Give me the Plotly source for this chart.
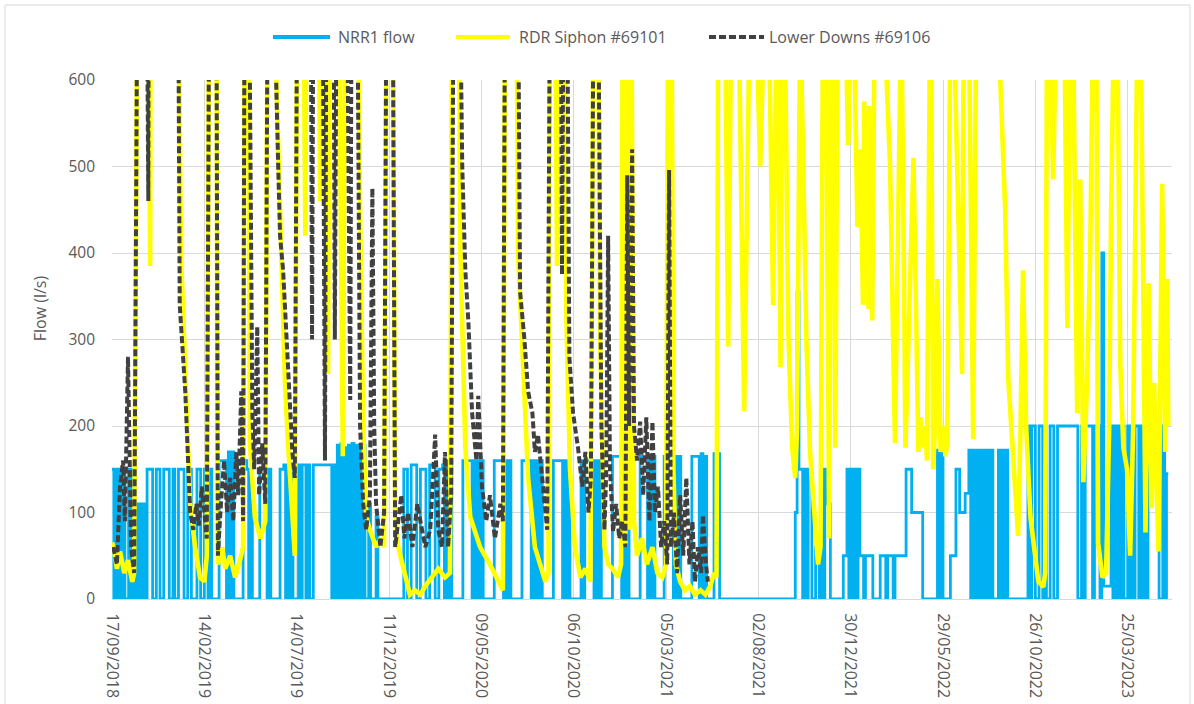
import pandas as pd
import plotly.graph_objects as go

RECORD_START = pd.Timestamp("2018-09-17")

# NRR1 flow (l/s), one reading every 3 days from the start of the record
NRR1_STEP_DAYS = 3
nrr1_flow = [
    150, 0, 150, 0, 150, 0, 150, 0, 0, 150, 0, 150, 0,
    110, 0, 110, 0, 110, 0,
    150, 150, 150, 0, 0, 150, 150, 0, 0, 150,
    150, 150, 0, 0, 150, 0, 0, 150, 150, 150,
    0, 0, 150, 150, 0, 0, 0, 150, 150, 0,
    0, 150,
    150, 0, 150, 0, 0, 0, 0, 160, 160, 160,
    160, 0, 170, 0, 170, 0, 0, 0, 0, 0,
    160, 160,
    150, 0, 150, 0, 0, 0, 0, 150, 150, 150,
    150, 0, 150, 0, 0, 0, 0, 0, 150, 150,
    155, 0,
    155, 0, 155, 0, 0, 0, 155, 0, 155, 155,
    0, 155, 0, 0, 155, 155, 155, 155, 155, 155,
    155, 155, 155, 155, 0, 155, 0,
    178, 0, 180, 0, 175, 0, 178, 0, 180, 0,
    178, 0, 175, 0, 178,
    0, 0, 110, 0, 0, 0, 95, 0, 0,
    0, 0, 0, 0, 0, 0, 0, 0, 0, 0, 0, 0,
    150, 150, 0, 0, 155, 155, 155, 0, 0, 150,
    150, 150, 0, 0, 155, 155, 155, 0, 0, 150,
    150,
    155, 0, 160, 0, 160, 0, 0, 0, 0, 0,
    0, 160, 160, 160, 160, 160, 0, 160, 0, 160,
    0, 160, 0, 0, 0, 0, 0, 0, 160, 160,
    160, 160, 160, 0, 160, 0, 160, 0, 0, 0,
    0, 0, 0, 160, 160, 160, 160, 160, 0, 160,
    0, 160, 0, 160, 0, 0, 0, 0, 0, 0,
    160, 160, 160, 160, 160, 0, 160, 0, 160, 0,
    0, 0, 0, 0, 0, 160, 0, 160, 160, 160,
    160, 160, 0, 160, 0, 160, 0, 0, 0, 0,
    0, 0, 165, 165, 165, 165, 165, 0, 160, 0,
    160, 0, 0, 0, 0, 0, 0, 165, 165, 165,
    165, 0, 165, 0, 165, 0, 0, 0, 0, 0,
    165, 165, 165, 165, 165, 0, 165, 0, 165, 0,
    0, 0, 0, 0, 0, 165, 165, 165, 165, 0,
    168, 0, 165, 0, 0, 0, 0, 168, 168, 168,
    0, 0, 0, 0, 0, 0, 0, 0, 0, 0,
    0, 0, 0, 0, 0, 0, 0, 0, 0, 0,
    0, 0, 0, 0, 0, 0, 0, 0, 0, 0,
    0, 0, 0, 0, 0, 0, 0, 0, 0, 0,
    0,
    100, 355, 150, 150, 0, 150, 0, 150, 150, 0,
    0, 60, 60, 0, 150, 0, 150, 110, 110, 0,
    0, 0, 0, 0, 0, 0, 50, 50, 150, 0,
    150, 0, 150, 0, 150, 50, 50, 0, 50, 50,
    50, 50, 0, 0, 0, 0, 50, 50, 50, 0,
    50, 50, 50, 0, 50, 50, 50, 50, 50, 50,
    150, 150, 150, 100, 100, 100, 100, 100, 100, 0,
    0, 0, 0, 0, 0, 0, 0, 172, 0, 172,
    0, 0, 0, 0, 50, 50, 50, 150, 150, 100,
    100, 100, 122, 122, 172, 0, 172, 0, 172, 0,
    172, 0, 172, 0, 172, 0, 172, 0, 0, 0,
    172, 0, 172, 0, 172, 0, 0, 0, 0, 0,
    0, 0, 0, 0, 0, 0,
    200, 0, 200, 200, 0, 0, 200, 200, 0, 200,
    0, 0, 200, 200, 0, 0, 200, 200, 200, 200,
    200, 200, 200, 200, 200, 200, 200, 0, 0, 200,
    0, 200, 200, 200, 200, 0, 200, 200, 200, 0,
    400, 15, 15, 15, 15, 200, 0, 200, 0, 200,
    0, 200, 0, 0, 200, 0, 200, 0, 200, 200,
    0, 200, 0, 200, 0, 200, 200, 200, 200, 200,
    200, 0, 0, 200, 0, 145, 145,
]

# RDR Siphon #69101 flow: (day from start of record, l/s)
rdr_points = [
    (0, 65), (3, 60), (8, 35), (13, 55), (20, 30), (26, 45), (33, 20), (36, 30),
    (41, 700), (46, 900), (52, 700), (57, 900), (62, 385), (63, 900), (104, 900),
    (107, 800), (112, 400), (119, 250), (127, 110), (135, 60), (143, 25), (150, 20),
    (154, 50), (159, 900), (164, 700), (169, 900), (172, 40), (179, 60), (184, 35),
    (192, 50), (200, 25), (208, 45), (213, 60), (216, 900), (221, 800), (224, 180),
    (232, 95), (241, 70), (249, 90), (254, 900), (260, 900), (267, 600), (273, 450),
    (281, 250), (286, 180), (293, 100), (297, 50), (302, 900), (309, 900), (314, 420),
    (317, 900), (335, 900), (338, 460), (341, 900), (346, 800), (351, 260), (354, 900),
    (366, 900), (375, 165), (380, 900), (397, 900), (403, 450), (408, 200), (413, 95),
    (419, 80), (429, 60), (436, 70), (442, 60), (447, 900), (455, 900), (460, 100),
    (465, 60), (475, 30), (484, 5), (492, 10), (501, 5), (509, 15), (520, 25),
    (530, 35), (541, 25), (549, 30), (553, 800), (562, 900), (566, 400), (574, 175),
    (582, 95), (592, 75), (598, 60), (614, 40), (631, 15), (635, 10), (639, 800),
    (645, 900), (650, 700), (655, 900), (660, 395), (668, 255), (676, 140), (687, 60),
    (696, 40), (704, 20), (709, 30), (712, 800), (718, 900), (723, 385), (728, 900),
    (735, 700), (738, 330), (744, 150), (752, 60), (761, 25), (769, 35), (777, 20),
    (783, 800), (788, 900), (793, 300), (800, 60), (806, 40), (813, 35), (822, 25),
    (827, 40), (830, 800), (834, 60), (837, 800), (840, 80), (843, 800), (848, 90),
    (853, 50), (861, 70), (869, 40), (878, 60), (886, 30), (894, 25), (900, 40),
    (904, 800), (908, 900), (912, 150), (916, 40), (923, 20), (931, 10), (939, 15),
    (947, 5), (956, 10), (964, 5), (972, 15), (978, 30), (982, 25), (985, 700),
    (988, 700), (996, 680), (1001, 292), (1006, 680), (1018, 680), (1027, 217),
    (1036, 680), (1046, 680), (1053, 500), (1060, 680), (1067, 680), (1074, 340),
    (1080, 680), (1082, 650), (1086, 268), (1089, 680), (1094, 600), (1099, 300),
    (1105, 175), (1110, 140), (1113, 200), (1118, 680), (1123, 500), (1128, 300),
    (1134, 170), (1141, 90), (1147, 40), (1151, 60), (1155, 680), (1160, 680),
    (1165, 70), (1168, 680), (1172, 680), (1175, 175), (1179, 680), (1191, 680),
    (1196, 525), (1201, 680), (1205, 680), (1211, 430), (1216, 520), (1220, 340),
    (1222, 575), (1229, 335), (1230, 570), (1235, 322), (1239, 680), (1254, 680),
    (1264, 500), (1272, 180), (1276, 400), (1282, 680), (1285, 500), (1289, 175),
    (1294, 300), (1302, 510), (1310, 170), (1313, 210), (1318, 175), (1321, 200),
    (1324, 160), (1329, 680), (1331, 600), (1334, 150), (1337, 200), (1341, 370),
    (1346, 170), (1350, 200), (1354, 165), (1357, 180), (1362, 680), (1367, 680),
    (1373, 500), (1381, 260), (1383, 580), (1386, 680), (1392, 680), (1399, 185),
    (1404, 680), (1438, 680), (1443, 600), (1451, 450), (1456, 255), (1463, 175),
    (1472, 73), (1476, 200), (1480, 380), (1485, 200), (1492, 95), (1498, 60),
    (1505, 20), (1513, 14), (1516, 30), (1519, 680), (1524, 650), (1529, 485),
    (1534, 680), (1547, 680), (1552, 313), (1557, 680), (1561, 680), (1568, 215),
    (1573, 485), (1578, 135), (1584, 250), (1589, 395), (1594, 680), (1599, 680),
    (1602, 65), (1609, 25), (1615, 30), (1620, 200), (1623, 440), (1628, 680),
    (1633, 680), (1638, 270), (1643, 175), (1649, 150), (1654, 50), (1659, 200),
    (1666, 680), (1671, 680), (1679, 77), (1684, 365), (1689, 105), (1693, 250),
    (1700, 55), (1706, 480), (1711, 170), (1714, 370), (1716, 200),
]

# Lower Downs #69106 flow: (day from start of record, l/s)
lower_points = [
    (2, 60), (8, 40), (13, 130), (18, 160), (21, 90), (26, 280), (31, 60), (36, 30),
    (41, 700), (46, 900), (55, 900), (59, 460), (60, 900), (104, 900), (107, 800),
    (110, 340), (115, 280), (119, 240), (127, 100), (132, 80), (137, 110), (141, 85),
    (146, 130), (151, 95), (154, 70), (159, 900), (164, 700), (169, 900), (172, 50),
    (177, 110), (182, 160), (187, 100), (192, 140), (197, 90), (202, 170), (205, 120),
    (210, 240), (213, 90), (216, 900), (221, 900), (224, 565), (228, 215), (231, 150),
    (236, 315), (239, 120), (244, 180), (249, 110), (254, 900), (260, 900), (265, 650),
    (270, 500), (273, 420), (278, 380), (284, 290), (293, 170), (297, 140), (302, 900),
    (322, 900), (325, 300), (328, 900), (341, 900), (346, 160), (349, 900), (359, 900),
    (362, 300), (366, 900), (380, 900), (387, 230), (390, 900), (397, 900), (403, 200),
    (408, 110), (413, 80), (419, 120), (423, 475), (426, 200), (429, 110), (436, 60),
    (442, 100), (447, 900), (455, 900), (460, 60), (465, 90), (470, 120), (475, 70),
    (481, 100), (488, 60), (496, 110), (501, 90), (509, 60), (517, 80), (525, 190),
    (530, 80), (536, 60), (541, 170), (546, 60), (551, 120), (556, 900), (562, 900),
    (569, 500), (574, 380), (579, 320), (585, 215), (592, 160), (595, 235), (601, 130),
    (608, 90), (614, 120), (622, 70), (631, 110), (635, 90), (639, 800), (645, 900),
    (650, 700), (658, 900), (663, 355), (670, 300), (676, 240), (683, 215), (687, 170),
    (692, 190), (697, 150), (702, 120), (707, 80), (712, 800), (728, 900), (731, 375),
    (735, 900), (738, 900), (743, 280), (749, 215), (757, 175), (764, 130), (769, 170),
    (774, 100), (778, 140), (783, 800), (788, 900), (795, 200), (800, 80), (803, 150),
    (806, 420), (809, 150), (814, 78), (819, 110), (824, 70), (829, 90), (834, 60),
    (837, 490), (840, 200), (845, 520), (848, 200), (853, 160), (858, 205), (863, 120),
    (868, 210), (873, 90), (878, 205), (882, 100), (887, 130), (892, 60), (897, 90),
    (902, 40), (905, 496), (908, 60), (913, 100), (918, 30), (923, 120), (928, 50),
    (933, 140), (938, 40), (943, 90), (947, 20), (952, 60), (957, 30), (960, 97),
    (965, 40), (968, 20),
]

tick_dates = [
    "2018-09-17", "2019-02-14", "2019-07-14", "2019-12-11", "2020-05-09", "2020-10-06",
    "2021-03-05", "2021-08-02", "2021-12-30", "2022-05-29", "2022-10-26", "2023-03-25",
]
x_range = ["2018-09-17", "2023-06-05"]

series_names = ["NRR1 flow", "RDR Siphon #69101", "Lower Downs #69106"]
series_colors = ["#00B0F0", "#FFFF00", "#404040"]

TEXT = "#595959"
GRID = "#D9D9D9"
FONT = "Open Sans"
DASH = "7px,3px"


def to_dates(days):
    return RECORD_START + pd.to_timedelta(list(days), unit="D")


nrr1_day = [NRR1_STEP_DAYS * i for i in range(len(nrr1_flow))]
rdr_day, rdr_flow = zip(*rdr_points)
lower_day, lower_flow = zip(*lower_points)

fig = go.Figure()
fig.add_trace(go.Scatter(
    x=to_dates(nrr1_day), y=nrr1_flow, mode="lines", name=series_names[0],
    line=dict(color=series_colors[0], width=2.8, shape="hv", simplify=False),
    showlegend=False,
))
fig.add_trace(go.Scatter(
    x=to_dates(rdr_day), y=list(rdr_flow), mode="lines", name=series_names[1],
    line=dict(color=series_colors[1], width=4.6), showlegend=False,
))
fig.add_trace(go.Scatter(
    x=to_dates(lower_day), y=list(lower_flow), mode="lines", name=series_names[2],
    line=dict(color=series_colors[2], width=4, dash=DASH), showlegend=False,
))

# Legend drawn as line samples with labels above the plot
legend_layout = [
    (0.1519, 0.2057, 0.2113, "solid"),
    (0.3245, 0.3755, 0.3821, "solid"),
    (0.5632, 0.6151, 0.6179, DASH),
]
shapes = []
annotations = []
LEG_Y = 1.083
for name, color, (x0, x1, xt, dash) in zip(series_names, series_colors, legend_layout):
    shapes.append(dict(type="line", xref="paper", yref="paper", x0=x0, x1=x1,
                       y0=LEG_Y, y1=LEG_Y, line=dict(color=color, width=4, dash=dash)))
    annotations.append(dict(xref="paper", yref="paper", x=xt, y=LEG_Y, text=name,
                            showarrow=False, xanchor="left", yanchor="middle",
                            font=dict(family=FONT, size=16, color=TEXT)))

annotations.append(dict(xref="paper", yref="paper", x=-0.068, y=0.56, text="Flow (l/s)",
                        textangle=-90, showarrow=False, xanchor="center", yanchor="middle",
                        font=dict(family=FONT, size=16, color=TEXT)))

# chart-area frame
shapes.append(dict(type="rect", xref="paper", yref="paper", x0=-0.1009, x1=1.017,
                   y0=-0.25, y1=1.1445, line=dict(color=GRID, width=1), layer="below"))

fig.update_layout(
    width=1194, height=704, autosize=False,
    margin=dict(l=112, r=22, t=80, b=105),
    paper_bgcolor="white", plot_bgcolor="white",
    font=dict(family=FONT, color=TEXT),
    shapes=shapes, annotations=annotations,
    xaxis=dict(
        type="date", range=x_range, tickvals=tick_dates, tickformat="%d/%m/%Y",
        tickangle=90, ticks="", showgrid=True, gridcolor=GRID, gridwidth=1,
        showline=True, linecolor=GRID, linewidth=1, zeroline=False,
        tickfont=dict(family=FONT, size=16, color=TEXT), automargin=False,
        ticklabelstandoff=10,
    ),
    yaxis=dict(
        range=[0, 600], dtick=100, tick0=0, ticks="", showgrid=True, gridcolor=GRID,
        gridwidth=1, zeroline=False, showline=False,
        tickfont=dict(family=FONT, size=15.5, color=TEXT), automargin=False,
        ticklabelstandoff=16,
    ),
)

fig.write_html("out.html")
